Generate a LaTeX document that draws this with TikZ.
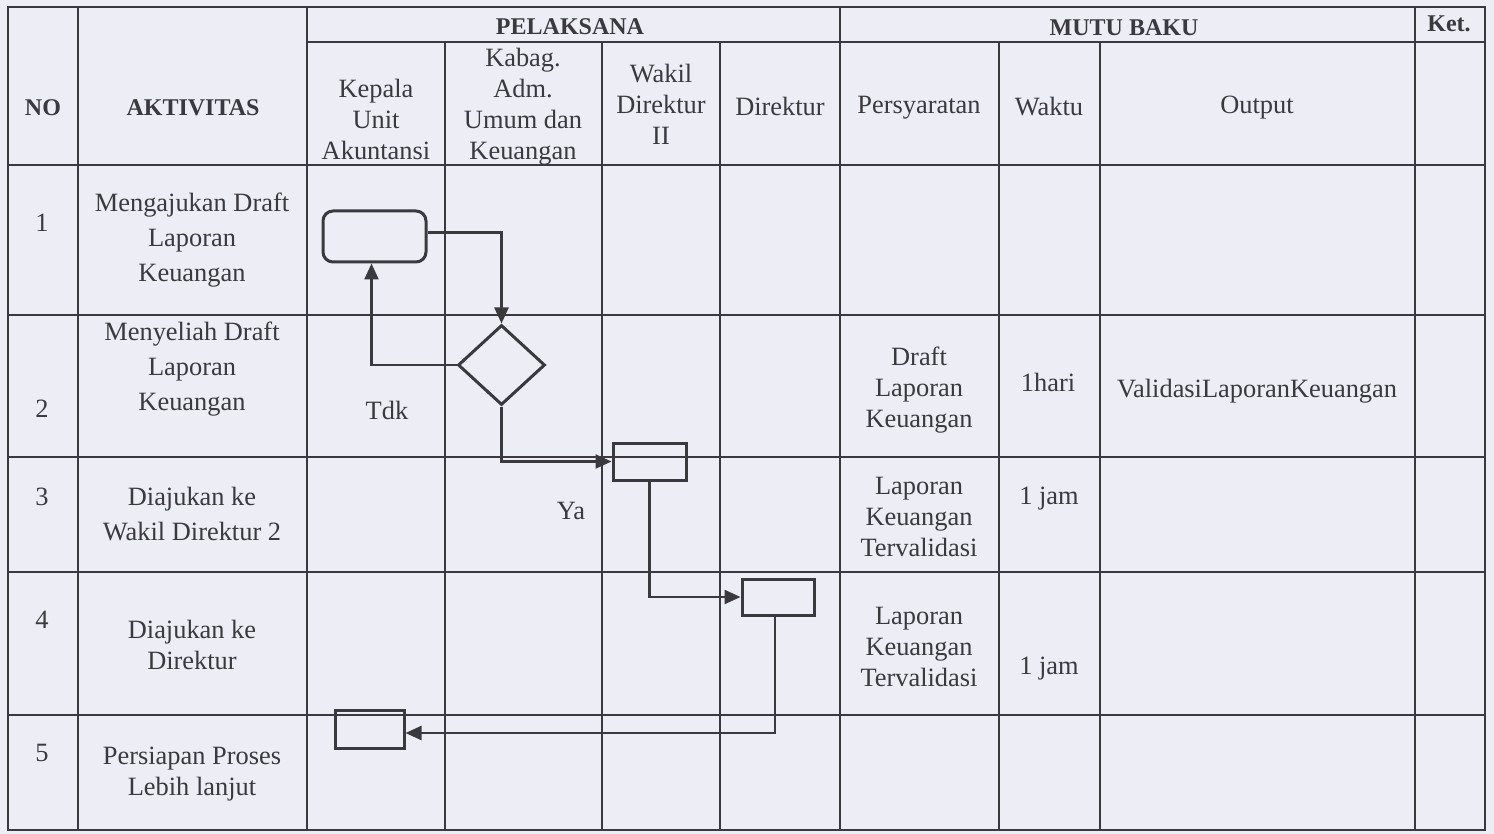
\documentclass[tikz,border=0pt]{standalone}
\usepackage{fontspec}
\setmainfont{Liberation Serif}
\usetikzlibrary{shapes.geometric,arrows.meta}

\definecolor{paper}{RGB}{236,237,245}
\definecolor{ink}{RGB}{58,58,62}

\begin{document}
\begin{tikzpicture}[x=0.5pt,y=-0.5pt,
    every node/.style={text=ink,align=center,font=\fontsize{13.2}{15.5}\selectfont},
    head/.style={font=\fontsize{12}{14}\selectfont\bfseries},
    wide/.style={font=\fontsize{13.2}{17.5}\selectfont},
    grid/.style={draw=ink,line width=0.7pt},
    proc/.style={draw=ink,line width=1.5pt,rectangle,inner sep=0pt},
    flow/.style={draw=ink,line width=1.2pt,-{Triangle[length=8pt,width=7pt]}}]
      \fill[paper] (0,0) rectangle (1494,834);
      \useasboundingbox (0,0) rectangle (1494,834);
      % table
      \draw[grid] (8,7) rectangle (1485,830);
      \draw[grid] (307,42)--(1485,42);
      \foreach \y in {165,315,457,572,715}
        \draw[grid] (8,\y)--(1485,\y);
      \foreach \x in {78,307,840,1415}
        \draw[grid] (\x,7)--(\x,830);
      \foreach \x in {445,602,720,999,1100}
        \draw[grid] (\x,42)--(\x,830);
      % header
      \node[head] (no) at (43,108) {NO};
      \node[head] (aktivitas) at (193,108) {AKTIVITAS};
      \node[head] (pelaksana) at (570,27) {PELAKSANA};
      \node[head] (mutubaku) at (1124,28) {MUTU BAKU};
      \node[head] (ket) at (1449,24) {Ket.};
      \node (kua) at (376,119) {Kepala\\Unit\\Akuntansi};
      \node (kabag) at (523,107) {Kabag.\\Adm.\\Umum dan\\Keuangan};
      \node (wadirII) at (661,104) {Wakil\\Direktur\\II};
      \node (direktur) at (780,106) {Direktur};
      \node (syarat) at (919,108) {Persyaratan};
      \node (waktu) at (1049,107) {Waktu};
      \node (output) at (1257,108) {Output};
      % rows
      \node (n1) at (42,223) {1};
      \node[wide] (a1) at (192,240) {Mengajukan Draft\\Laporan\\Keuangan};
      \node (n2) at (42,409) {2};
      \node[wide] (a2) at (192,369) {Menyeliah Draft\\Laporan\\Keuangan};
      \node (s2) at (919,390) {Draft\\Laporan\\Keuangan};
      \node (w2) at (1048,382) {1hari};
      \node (o2) at (1257,391) {ValidasiLaporanKeuangan};
      \node (n3) at (42,497) {3};
      \node[wide] (a3) at (192,514) {Diajukan ke\\Wakil Direktur 2};
      \node (s3) at (919,517) {Laporan\\Keuangan\\Tervalidasi};
      \node (w3) at (1049,499) {1 jam};
      \node (n4) at (42,620) {4};
      \node (a4) at (192,645) {Diajukan ke\\Direktur};
      \node (s4) at (919,647) {Laporan\\Keuangan\\Tervalidasi};
      \node (w4) at (1049,669) {1 jam};
      \node (n5) at (42,753) {5};
      \node (a5) at (192,774) {Persiapan Proses\\Lebih lanjut};
      % flow
      \node[proc,rounded corners=5pt,minimum width=51.5pt,minimum height=25.5pt] (draft) at (374.5,236.5) {};
      \node[proc,diamond,minimum width=43.5pt,minimum height=40pt] (cek) at (501.5,365) {};
      \node[proc,minimum width=36.5pt,minimum height=18.5pt] (wadir) at (649.5,461.5) {};
      \node[proc,minimum width=36pt,minimum height=18pt] (dir) at (778,597) {};
      \node[proc,minimum width=34.5pt,minimum height=19pt] (lanjut) at (369.5,729) {};
      \draw[flow] ([yshift=2pt]draft.east) -| (cek.north);
      \draw[flow] (cek.west) -| ([xshift=-1.5pt]draft.south);
      \draw[flow] (cek.south) |- (wadir.west);
      \draw[flow] (wadir.south) |- (dir.west);
      \draw[flow] ([xshift=-1.5pt]dir.south) |- ([yshift=-2pt]lanjut.east);
      \node (tdk) at (387,410) {Tdk};
      \node (ya) at (571,511) {Ya};
\end{tikzpicture}
\end{document}
